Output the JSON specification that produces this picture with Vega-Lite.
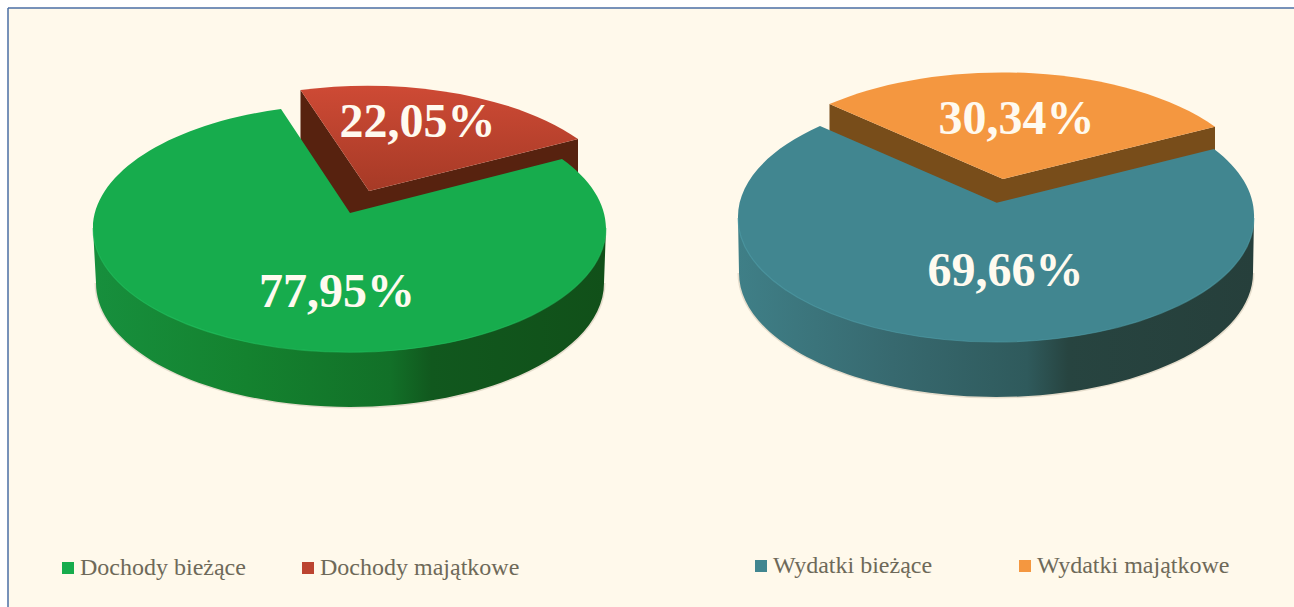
{"$schema":"https://vega.github.io/schema/vega-lite/v6.json","width":1286,"height":599,"autosize":{"type":"none"},"padding":{"left":8,"top":8,"right":0,"bottom":0},"background":"#ffffff","view":{"fill":"#FFF9EB","stroke":null},"data":{"values":[{"group":"Dochody","series":"Dochody bieżące","value":77.95,"label":"77,95%"},{"group":"Dochody","series":"Dochody majątkowe","value":22.05,"label":"22,05%"},{"group":"Wydatki","series":"Wydatki bieżące","value":69.66,"label":"69,66%"},{"group":"Wydatki","series":"Wydatki majątkowe","value":30.34,"label":"30,34%"}]},"resolve":{"scale":{"color":"independent"}},"layer":[{"data":{"values":[{"edge":"top"}]},"mark":{"type":"rule","color":"#4A6EA5","strokeWidth":1.5},"encoding":{"y":{"value":0}}},{"data":{"values":[{"edge":"left"}]},"mark":{"type":"rule","color":"#4A6EA5","strokeWidth":1.5},"encoding":{"x":{"value":0}}},{"transform":[{"filter":"datum.group==='Dochody'"}],"mark":{"type":"point","filled":true,"size":0,"opacity":1,"strokeWidth":0},"encoding":{"color":{"field":"series","type":"nominal","scale":{"domain":["Dochody bieżące","Dochody majątkowe"],"range":["#17AC4D","#BC4430"]},"legend":{"title":null,"orient":"none","legendX":48,"legendY":548,"direction":"horizontal","columns":2,"symbolType":"square","symbolSize":144,"symbolStrokeWidth":0,"labelFont":"Liberation Serif","labelFontSize":24,"labelColor":"#6E6959","labelOffset":0,"labelLimit":400,"columnPadding":50}}}},{"transform":[{"filter":"datum.group==='Wydatki'"}],"mark":{"type":"point","filled":true,"size":0,"opacity":1,"strokeWidth":0},"encoding":{"color":{"field":"series","type":"nominal","scale":{"domain":["Wydatki bieżące","Wydatki majątkowe"],"range":["#418690","#F49740"]},"legend":{"title":null,"orient":"none","legendX":741,"legendY":546,"direction":"horizontal","columns":2,"symbolType":"square","symbolSize":144,"symbolStrokeWidth":0,"labelFont":"Liberation Serif","labelFontSize":24,"labelColor":"#6E6959","labelOffset":0,"labelLimit":400,"columnPadding":80}}}},{"transform":[{"filter":"datum.series==='Dochody bieżące'"}],"mark":{"type":"point","filled":false,"size":4,"stroke":"#A89C85","strokeOpacity":0.3,"strokeWidth":3,"opacity":1},"encoding":{"shape":{"value":"M-555 -24.5 A254 124 0 0 0 -47 -24.5"}}},{"transform":[{"filter":"datum.series==='Wydatki bieżące'"}],"mark":{"type":"point","filled":false,"size":4,"stroke":"#A89C85","strokeOpacity":0.3,"strokeWidth":3,"opacity":1},"encoding":{"shape":{"value":"M88 -34.5 A257 124 0 0 0 602 -34.5"}}},{"transform":[{"filter":"datum.series==='Dochody majątkowe'"}],"mark":{"type":"point","filled":true,"size":4,"opacity":1,"strokeWidth":0,"fill":"#57220F"},"encoding":{"shape":{"value":"M-350.5 -217.5 L-282 -116.5 L-73 -168.5 L-73 -113.5 L-282 -61.5 L-350.5 -162.5 Z"}}},{"transform":[{"filter":"datum.series==='Wydatki majątkowe'"}],"mark":{"type":"point","filled":true,"size":4,"opacity":1,"strokeWidth":0,"fill":"#784D1A"},"encoding":{"shape":{"value":"M178.5 -203.5 L352 -128.5 L564 -180.8 L564 -150.8 L352 -98.5 L178.5 -173.5 Z"}}},{"transform":[{"filter":"datum.series==='Dochody bieżące'"}],"mark":{"type":"point","filled":true,"size":4,"opacity":1,"strokeWidth":0,"fill":{"gradient":"linear","x1":0,"y1":0,"x2":1,"y2":0,"stops":[{"offset":0,"color":"#178F3D"},{"offset":0.3,"color":"#14822F"},{"offset":0.58,"color":"#127028"},{"offset":0.66,"color":"#11581E"},{"offset":1,"color":"#115019"}]}},"encoding":{"shape":{"value":"M-558 -79.5 L-45 -79.5 L-47 -24.5 A254 124 0 0 1 -555 -24.5 Z"}}},{"transform":[{"filter":"datum.series==='Wydatki bieżące'"}],"mark":{"type":"point","filled":true,"size":4,"opacity":1,"strokeWidth":0,"fill":{"gradient":"linear","x1":0,"y1":0,"x2":1,"y2":0,"stops":[{"offset":0,"color":"#3F7F87"},{"offset":0.3,"color":"#37696F"},{"offset":0.56,"color":"#2F5A5C"},{"offset":0.64,"color":"#274440"},{"offset":1,"color":"#263F3B"}]}},"encoding":{"shape":{"value":"M87 -89.5 L603 -89.5 L602 -34.5 A257 124 0 0 1 88 -34.5 Z"}}},{"transform":[{"filter":"datum.series==='Dochody bieżące'"}],"mark":{"type":"point","filled":true,"size":4,"opacity":1,"strokeWidth":0,"fill":"#17AC4D"},"encoding":{"shape":{"value":"M-301 -94.5 L-370 -198.5 A256 124 0 0 0 -558 -79.5 A256 124 0 0 0 -45 -79.5 A256 124 0 0 0 -89 -148.5 Z"}}},{"transform":[{"filter":"datum.series==='Dochody majątkowe'"}],"mark":{"type":"point","filled":true,"size":4,"opacity":1,"strokeWidth":0,"fill":{"gradient":"linear","x1":0,"y1":0,"x2":0,"y2":1,"stops":[{"offset":0,"color":"#CE4A35"},{"offset":1,"color":"#A63A26"}]}},"encoding":{"shape":{"value":"M-350.5 -217.5 A256 124 0 0 1 -73 -168.5 L-282 -116.5 Z"}}},{"transform":[{"filter":"datum.series==='Wydatki bieżące'"}],"mark":{"type":"point","filled":true,"size":4,"opacity":1,"strokeWidth":0,"fill":"#418690"},"encoding":{"shape":{"value":"M345.7 -104.8 L169 -181.5 A258 124 0 0 0 87 -89.5 A258 124 0 0 0 603 -89.5 A258 124 0 0 0 563 -158.5 Z"}}},{"transform":[{"filter":"datum.series==='Wydatki majątkowe'"}],"mark":{"type":"point","filled":true,"size":4,"opacity":1,"strokeWidth":0,"fill":"#F49740"},"encoding":{"shape":{"value":"M178.5 -203.5 A258 124 0 0 1 564 -180.8 L352 -128.5 Z"}}},{"transform":[{"filter":"datum.series==='Dochody bieżące'"}],"mark":{"type":"point","filled":false,"size":4,"stroke":"#25C262","strokeOpacity":0.55,"strokeWidth":1.2,"opacity":1},"encoding":{"shape":{"value":"M-558 -79.5 A256 124 0 0 0 -45 -79.5"}}},{"transform":[{"filter":"datum.series==='Wydatki bieżące'"}],"mark":{"type":"point","filled":false,"size":4,"stroke":"#52A0AC","strokeOpacity":0.55,"strokeWidth":1.2,"opacity":1},"encoding":{"shape":{"value":"M87 -89.5 A258 124 0 0 0 603 -89.5"}}},{"transform":[{"filter":"datum.series==='Dochody bieżące'"}],"mark":{"type":"text","font":"Liberation Serif","fontWeight":"bold","fontSize":48,"fill":"#FFFAEF","baseline":"alphabetic","align":"center","dx":-314,"dy":-0.5},"encoding":{"text":{"field":"label","type":"nominal"}}},{"transform":[{"filter":"datum.series==='Dochody majątkowe'"}],"mark":{"type":"text","font":"Liberation Serif","fontWeight":"bold","fontSize":48,"fill":"#FFFAEF","baseline":"alphabetic","align":"center","dx":-233.5,"dy":-170.5},"encoding":{"text":{"field":"label","type":"nominal"}}},{"transform":[{"filter":"datum.series==='Wydatki bieżące'"}],"mark":{"type":"text","font":"Liberation Serif","fontWeight":"bold","fontSize":48,"fill":"#FFFAEF","baseline":"alphabetic","align":"center","dx":354.5,"dy":-21.5},"encoding":{"text":{"field":"label","type":"nominal"}}},{"transform":[{"filter":"datum.series==='Wydatki majątkowe'"}],"mark":{"type":"text","font":"Liberation Serif","fontWeight":"bold","fontSize":48,"fill":"#FFFAEF","baseline":"alphabetic","align":"center","dx":365.5,"dy":-173.5},"encoding":{"text":{"field":"label","type":"nominal"}}}]}
